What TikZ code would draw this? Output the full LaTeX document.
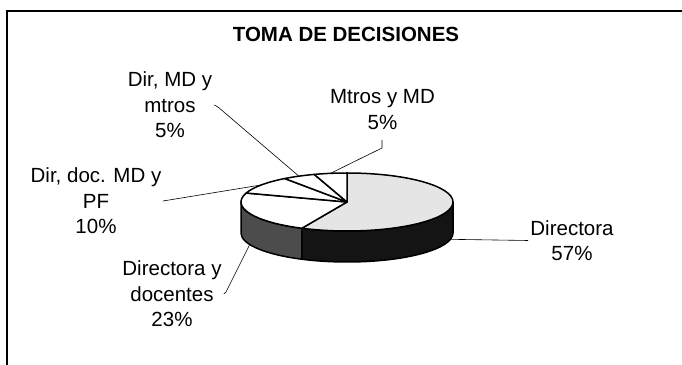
\documentclass[tikz,border=0pt]{standalone}
\usepackage{fontspec}
\setmainfont{Liberation Sans}
\usepackage{tikz}
\usetikzlibrary{calc}
\usetikzlibrary{positioning}
\tikzstyle{frame}=[line width=1.3pt]
\tikzstyle{slice}=[draw=black,line width=1.5pt,line join=round]
\tikzstyle{leader}=[line width=0.6pt]
\tikzstyle{lbl}=[align=center,font=\fontsize{20.5}{25.5}\selectfont,inner sep=2pt]
\tikzstyle{ttl}=[font=\fontsize{20.5}{24}\selectfont\bfseries]
\tikzstyle{rim}=[x radius=106,y radius=29]
\definecolor{dirtop}{gray}{0.9}
\definecolor{dirside}{gray}{0.08}
\definecolor{docside}{gray}{0.3}

\begin{document}
\begin{tikzpicture}[x=1pt,y=1pt]
\useasboundingbox (0,0) rectangle (682,364);
\clip (0,0) rectangle (682,364);
\draw[frame] (7,-10) rectangle (700,353);
\node[ttl] (title) at (346,330) {TOMA DE DECISIONES};

% pie, sides first
\coordinate (c) at (347,162);
\path[slice,fill=docside] (c) ++(180:106 and 29) arc[rim,start angle=180,end angle=244.8]
  -- ++(0,-31) arc[rim,start angle=244.8,end angle=180] -- cycle;
\path[slice,fill=dirside] (c) ++(244.8:106 and 29) arc[rim,start angle=244.8,end angle=360]
  -- ++(0,-31) arc[rim,start angle=360,end angle=244.8] -- cycle;
\path[slice,fill=dirtop] (c) -- ++(90:106 and 29) arc[rim,start angle=90,end angle=-115.2] -- cycle;
\foreach \a/\b in {244.8/162,162/126,126/108,108/90}
  \path[slice,fill=white] (c) -- ++(\a:106 and 29) arc[rim,start angle=\a,end angle=\b] -- cycle;

% labels
\node[lbl] (lMD) at (382.5,254.5) {Mtros y MD\\5\%};
\node[lbl] (lDirMD) at (170,259) {Dir, MD y\\mtros\\5\%};
\node[lbl] (lPF) at (96,163) {Dir, doc. MD y\\PF\\10\%};
\node[lbl] (lDir) at (572,123.5) {Directora\\57\%};
\node[lbl] (lDoc) at (172,70) {Directora y\\docentes\\23\%};

% leaders
\coordinate (pMD) at ($(c)+(99:106 and 29)$);
\coordinate (pDirMD) at ($(c)+(117:106 and 29)$);
\coordinate (pPF) at ($(c)+(144:106 and 29)$);
\coordinate (pDir) at ($(c)+(-12.6:106 and 29)+(0,-31)$);
\coordinate (pDoc) at ($(c)+(-156.6:106 and 29)+(0,-31)$);
\coordinate (kMD) at (382,216);
\coordinate (kDirMD) at (218,257);
\coordinate (kPF) at (163,163);
\coordinate (kDoc) at (226,72);
\draw[leader] (pMD) -- (kMD) -- ++(0,8);
\draw[leader] (pDirMD) -- (kDirMD) -- (lDirMD.east);
\draw[leader] (pPF) -- (kPF) -- (lPF.east);
\draw[leader] (pDir) -- (lDir.west);
\draw[leader] (pDoc) -- (kDoc) -- (lDoc.east);
\end{tikzpicture}
\end{document}
